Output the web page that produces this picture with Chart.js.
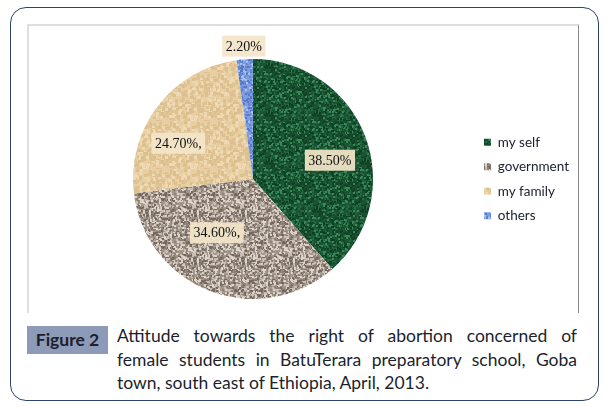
<!DOCTYPE html>
<html>
<head>
<meta charset="utf-8">
<script src="https://cdn.jsdelivr.net/npm/chart.js@4/dist/chart.umd.min.js"></script>
<style>
  body { margin: 0; width: 605px; height: 407px; background: #fff; position: relative; overflow: hidden; }
  #marco { position: absolute; left: 10px; top: 7px; width: 589px; height: 394px;
    border: 1.5px solid #2e4468; border-radius: 16px; box-sizing: border-box; }
  #area { position: absolute; left: 27px; top: 24px; width: 552px; height: 289px;
    border-left: 2px solid #dedede; border-top: 2px solid #dedede; border-right: 1px solid #8a8a8a; box-sizing: border-box; }
  #grafico { position: absolute; left: 28px; top: 25px; }
  #fig { position: absolute; left: 27px; top: 326px; width: 81px; height: 28px; background: #8d9ab8;
    font: bold 17.5px Lato, "Open Sans", sans-serif; color: #1b1f2e; text-align: center; line-height: 28px; }
  #pie { position: absolute; left: 117px; top: 324px; width: 460px;
    font: 17.5px Lato, "Open Sans", sans-serif; color: #1b1f2e; line-height: 23.5px; }
  #pie div { white-space: nowrap; text-align: justify; text-align-last: justify; }
  #pie div.ult { text-align-last: left; }
</style>
</head>
<body>
<div id="marco"></div>
<div id="area"></div>
<canvas id="grafico" width="551" height="288"></canvas>
<div id="fig">Figure 2</div>
<div id="pie">
  <div>Attitude towards the right of abortion concerned of</div>
  <div>female students in BatuTerara preparatory school, Goba</div>
  <div class="ult">town, south east of Ethiopia, April, 2013.</div>
</div>
<script>
// datos
var categorias = ["my self", "government", "my family", "others"]
var valores = [38.5, 34.6, 24.7, 2.2]
var etiquetas = ["38.50%", "34.60%,", "24.70%,", "2.20%"]

// texturas tipo excel (ruido con semilla fija)
function textura(base, manchas, cantidad, tam, semilla){
    var c = document.createElement("canvas")
    c.width = 48; c.height = 48
    var ctx = c.getContext("2d")
    ctx.fillStyle = base
    ctx.fillRect(0, 0, 48, 48)
    var s = semilla
    function rnd(){ s = (s * 9301 + 49297) % 233280; return s / 233280 }
    for(var i=0; i<cantidad; i++){
        ctx.fillStyle = manchas[Math.floor(rnd() * manchas.length)]
        ctx.fillRect(Math.floor(rnd()*48), Math.floor(rnd()*48), tam, tam)
    }
    return ctx.createPattern(c, "repeat")
}

var TEXTURAS = [
    textura("#1a5533", ["#0f3e23", "#13472a", "#3a8758", "#246a43"], 650, 2, 7),
    textura("#a3978b", ["#766a60", "#c9beb3", "#8e8176", "#dcd3ca"], 800, 2, 11),
    textura("#e8cea3", ["#e0c393", "#efd9b3", "#dcbf8f"], 300, 3, 5),
    textura("#7d9de0", ["#5578c8", "#a9c0ee", "#6688d4"], 500, 2, 3),
]

// etiquetas de datos con recuadro
var etiquetasPlugin = {
    id: "etiquetas",
    afterDatasetsDraw: function(chart, args, opts){
        var ctx = chart.ctx
        var meta = chart.getDatasetMeta(0)
        ctx.save()
        ctx.font = "14px 'Liberation Serif', 'DejaVu Serif', serif"
        ctx.textAlign = "center"
        ctx.textBaseline = "middle"
        meta.data.forEach(function(arc, i){
            var p = arc.getProps(["x", "y", "startAngle", "endAngle", "outerRadius"], true)
            var ang = (p.startAngle + p.endAngle) / 2 + opts.giro[i] * Math.PI / 180
            var r = p.outerRadius * opts.radio[i]
            var x = p.x + Math.cos(ang) * r
            var y = p.y + Math.sin(ang) * r
            var w = ctx.measureText(etiquetas[i]).width + 7
            ctx.fillStyle = "rgba(243,229,201,0.93)"
            ctx.fillRect(x - w/2, y - 10.5, w, 21)
            ctx.fillStyle = "#111"
            ctx.fillText(etiquetas[i], x, y + 1)
        })
        ctx.restore()
    }
}

var chart = new Chart(document.getElementById("grafico"), {
    type: "pie",
    data: {
        labels: categorias,
        datasets: [{
            data: valores,
            backgroundColor: TEXTURAS,
            borderWidth: 0,
        }],
    },
    options: {
        responsive: false,
        animation: false,
        events: [],
        layout: { padding: { left: 5, right: 0, top: 34, bottom: 14 } },
        plugins: {
            tooltip: { enabled: false },
            legend: {
                position: "right",
                align: "center",
                labels: {
                    boxWidth: 7,
                    boxHeight: 7,
                    padding: 11,
                    color: "#1b1f2e",
                    font: { family: "Lato, 'Open Sans', sans-serif", size: 13.5 },
                },
            },
            etiquetas: {
                radio: [0.66, 0.54, 0.69, 1.11],
                giro: [7, 13, -12, 0],
            },
        },
    },
    plugins: [etiquetasPlugin],
});
</script>
</body>
</html>
